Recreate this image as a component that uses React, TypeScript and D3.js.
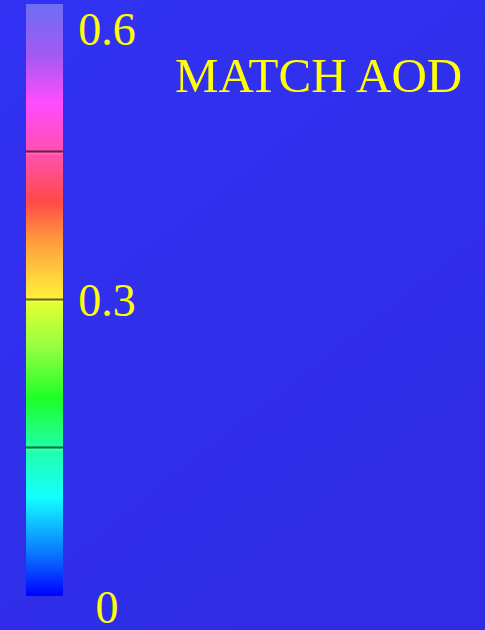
import React from "react";
import * as d3 from "d3";

const W = 485;
const H = 630;
const title = "MATCH AOD";
const domainMin = 0;
const domainMax = 0.6;
const tickValues = [0.15, 0.3, 0.45];
const labelValues = [0.6, 0.3, 0];
const labelTexts = ["0.6", "0.3", "0"];
const stopValues = [0, 0.04, 0.08, 0.1, 0.13, 0.16, 0.2, 0.25, 0.3, 0.3, 0.32, 0.36, 0.4, 0.44, 0.5, 0.55, 0.6];
const stopColors = [
  "#0000ff", "#0a6eff", "#10d0ff", "#14ffff", "#1effcc", "#20ff90", "#1eff28", "#90ff40",
  "#e8ff30", "#fff03c", "#ffd83c", "#ff9a3c", "#ff4a46", "#ff50a0", "#ff4cff", "#a05af2", "#6e6ef5",
];

export default function App() {
  const y = d3.scaleLinear().domain([domainMin, domainMax]).range([596, 4]);
  const barX = 26;
  const barW = 37;
  const labelDy = [41, 16, 27];
  return (
    <svg width={W} height={H} style={{ position: "fixed", top: 0, left: 0, display: "block" }}>
      <defs>
        <linearGradient id="bg" x1="0" y1="0" x2="0.6" y2="1">
          <stop offset="0" stopColor="#3232f4" />
          <stop offset="1" stopColor="#2e2ce4" />
        </linearGradient>
        <linearGradient id="cb" x1="0" y1={y(domainMin)} x2="0" y2={y(domainMax)} gradientUnits="userSpaceOnUse">
          {stopValues.map((v, i) => (
            <stop key={i} offset={(v - domainMin) / (domainMax - domainMin)} stopColor={stopColors[i]} />
          ))}
        </linearGradient>
      </defs>
      <rect x={0} y={0} width={W} height={H} fill="url(#bg)" />
      <rect x={barX} y={y(domainMax)} width={barW} height={y(domainMin) - y(domainMax)} fill="url(#cb)" />
      {tickValues.map((v, i) => (
        <g key={i}>
          <line x1={barX} x2={barX + barW} y1={y(v) + 1.5} y2={y(v) + 1.5} stroke="#fff" strokeOpacity={0.15} strokeWidth={2} />
          <line x1={barX} x2={barX + barW} y1={y(v) - 0.5} y2={y(v) - 0.5} stroke="#000" strokeOpacity={0.6} strokeWidth={2} />
        </g>
      ))}
      {labelValues.map((v, i) => (
        <text
          key={i}
          x={107}
          y={y(v) + labelDy[i]}
          textAnchor="middle"
          fill="#ffff00"
          fontFamily="'Liberation Serif', 'Times New Roman', serif"
          fontSize={46}
        >
          {labelTexts[i]}
        </text>
      ))}
      <text x={175} y={92} fill="#ffff00" fontFamily="'Liberation Serif', 'Times New Roman', serif" fontSize={49}>
        {title}
      </text>
    </svg>
  );
}
